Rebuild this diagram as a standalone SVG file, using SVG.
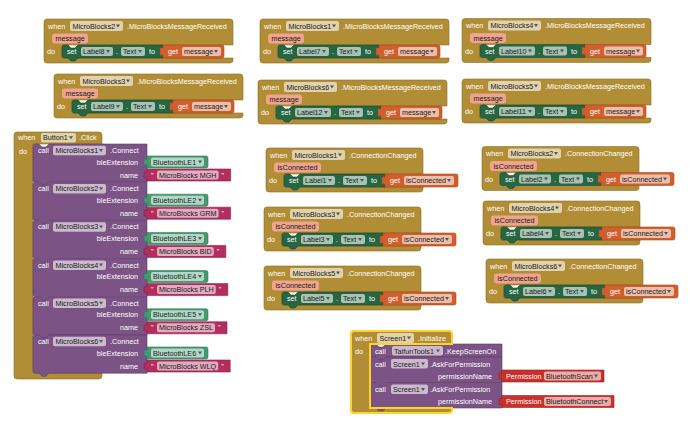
<svg xmlns="http://www.w3.org/2000/svg" width="690" height="421" viewBox="0 0 690 421">
<style>
text{font-family:"Liberation Sans",Arial,sans-serif;font-size:7.2px}
.w{fill:#fff}.k{fill:#1a1a1a}
.ev{fill:#B18E35;stroke:#8c7029;stroke-width:.6}
.st{fill:#266643;stroke:#1a4a30;stroke-width:.6}
.gt{fill:#D05F2D;stroke:#a84a20;stroke-width:.6}
.cl{fill:#7C5385;stroke:#5e3d66;stroke-width:.6}
.cp{fill:#439970;stroke:#327556;stroke-width:.6}
.tx{fill:#B32D5E;stroke:#8a2047;stroke-width:.6}
.pm{fill:#C8302C;stroke:#9b2420;stroke-width:.6}
.fe{fill:#E0D2AE}.fs{fill:#A8C2B3}.fg{fill:#ECBFAB}.fc{fill:#CBBACE}.fp{fill:#B4D6C6}.ft{fill:#E1ABBF}.fr{fill:#E9ACAA}
.pc{fill:#EFA48E}
.dd{fill:#555}
.sel{fill:none;stroke:#FFD42A;stroke-width:2}
</style>
<defs>
<path id="evMsg" d="M0,3Q0,0 3,0H186Q189,0 189,3V26H18V39H189V41Q189,44 186,44H3Q0,44 0,41Z"/>
<path id="evConn" d="M0,3Q0,0 3,0H154Q157,0 157,3V26H18V39H157V41Q157,44 154,44H3Q0,44 0,41Z"/>
<path id="evB" d="M0,3Q0,0 3,0H85Q88,0 88,3V12H19V241H88V244Q88,247 85,247H3Q0,247 0,244Z"/>
<path id="evS" d="M0,3Q0,0 3,0H98Q101,0 101,3V13H19V77H101V79Q101,82 98,82H3Q0,82 0,79Z"/>
<path id="setS" d="M0,2Q0,0 2,0H6L9,3H13L16,0H101V13H16L13,16H9L6,13H2Q0,13 0,11Z"/>
<path id="setL" d="M0,2Q0,0 2,0H6L9,3H13L16,0H105V13H16L13,16H9L6,13H2Q0,13 0,11Z"/>
<path id="getM" d="M0,0H59Q61,0 61,2V11Q61,13 59,13H0V10H-3V3H0Z"/>
<path id="getC" d="M0,0H71Q73,0 73,2V11Q73,13 71,13H0V10H-3V3H0Z"/>
<path id="callB" d="M0,2Q0,0 2,0H6L9,3H13L16,0H114V38.2H16L13,41.2H9L6,38.2H2Q0,38.2 0,36.2Z"/>
<path id="callS1" d="M0,2Q0,0 2,0H6L9,3H13L16,0H132V13H16L13,16H9L6,13H2Q0,13 0,11Z"/>
<path id="callS2" d="M0,2Q0,0 2,0H6L9,3H13L16,0H132V25.5H16L13,28.5H9L6,25.5H2Q0,25.5 0,23.5Z"/>
<path id="comp" d="M0,0H59Q61,0 61,2V10Q61,12 59,12H0V9H-3V3H0Z"/>
<path id="dd" d="M0,0h4l-2,3z" class="dd"/>
</defs>
<rect width="690" height="421" fill="#fff"/>
<g id="connectors"/>

<!-- MessageReceived blocks -->
<g id="mb2-message" transform="translate(44,19)">
<use href="#evMsg" class="ev"/>
<text class="w" x="4" y="9.6">when</text>
<rect class="fe" x="26" y="2" width="53" height="10" rx="2"/>
<text class="k" x="28.5" y="9.6">MicroBlocks2</text>
<use href="#dd" x="72" y="5.5"/>
<text class="w" x="83" y="9.6">.MicroBlocksMessageReceived</text>
<rect class="pc" x="8" y="14.5" width="36" height="10" rx="3"/>
<text class="k" x="11.5" y="22">message</text>
<text class="w" x="3" y="35">do</text>
<use href="#setS" class="st" x="18" y="26"/>
<text class="w" x="23" y="35.1">set</text>
<rect class="fs" x="37" y="28" width="32" height="9" rx="2"/>
<text class="k" x="39" y="35.1">Label8</text>
<use href="#dd" x="62" y="31"/>
<text class="w" x="72" y="35.1">.</text>
<rect class="fs" x="77" y="28" width="24" height="9" rx="2"/>
<text class="k" x="79" y="35.1">Text</text>
<use href="#dd" x="94" y="31"/>
<text class="w" x="105" y="35.1">to</text>
<use href="#getM" class="gt" x="119" y="26"/>
<text class="w" x="124" y="35.1">get</text>
<rect class="fg" x="138" y="28" width="39" height="9" rx="2"/>
<text class="k" x="140" y="35.1">message</text>
<use href="#dd" x="170" y="31"/>
</g>

<g id="mb3-message" transform="translate(54,74)">
<use href="#evMsg" class="ev"/>
<text class="w" x="4" y="9.6">when</text>
<rect class="fe" x="26" y="2" width="53" height="10" rx="2"/>
<text class="k" x="28.5" y="9.6">MicroBlocks3</text>
<use href="#dd" x="72" y="5.5"/>
<text class="w" x="83" y="9.6">.MicroBlocksMessageReceived</text>
<rect class="pc" x="8" y="14.5" width="36" height="10" rx="3"/>
<text class="k" x="11.5" y="22">message</text>
<text class="w" x="3" y="35">do</text>
<use href="#setS" class="st" x="18" y="26"/>
<text class="w" x="23" y="35.1">set</text>
<rect class="fs" x="37" y="28" width="32" height="9" rx="2"/>
<text class="k" x="39" y="35.1">Label9</text>
<use href="#dd" x="62" y="31"/>
<text class="w" x="72" y="35.1">.</text>
<rect class="fs" x="77" y="28" width="24" height="9" rx="2"/>
<text class="k" x="79" y="35.1">Text</text>
<use href="#dd" x="94" y="31"/>
<text class="w" x="105" y="35.1">to</text>
<use href="#getM" class="gt" x="119" y="26"/>
<text class="w" x="124" y="35.1">get</text>
<rect class="fg" x="138" y="28" width="39" height="9" rx="2"/>
<text class="k" x="140" y="35.1">message</text>
<use href="#dd" x="170" y="31"/>
</g>

<g id="mb1-message" transform="translate(260,19)">
<use href="#evMsg" class="ev"/>
<text class="w" x="4" y="9.6">when</text>
<rect class="fe" x="26" y="2" width="53" height="10" rx="2"/>
<text class="k" x="28.5" y="9.6">MicroBlocks1</text>
<use href="#dd" x="72" y="5.5"/>
<text class="w" x="83" y="9.6">.MicroBlocksMessageReceived</text>
<rect class="pc" x="8" y="14.5" width="36" height="10" rx="3"/>
<text class="k" x="11.5" y="22">message</text>
<text class="w" x="3" y="35">do</text>
<use href="#setS" class="st" x="18" y="26"/>
<text class="w" x="23" y="35.1">set</text>
<rect class="fs" x="37" y="28" width="32" height="9" rx="2"/>
<text class="k" x="39" y="35.1">Label7</text>
<use href="#dd" x="62" y="31"/>
<text class="w" x="72" y="35.1">.</text>
<rect class="fs" x="77" y="28" width="24" height="9" rx="2"/>
<text class="k" x="79" y="35.1">Text</text>
<use href="#dd" x="94" y="31"/>
<text class="w" x="105" y="35.1">to</text>
<use href="#getM" class="gt" x="119" y="26"/>
<text class="w" x="124" y="35.1">get</text>
<rect class="fg" x="138" y="28" width="39" height="9" rx="2"/>
<text class="k" x="140" y="35.1">message</text>
<use href="#dd" x="170" y="31"/>
</g>

<g id="mb4-message" transform="translate(462,18.5)">
<use href="#evMsg" class="ev"/>
<text class="w" x="4" y="9.6">when</text>
<rect class="fe" x="26" y="2" width="53" height="10" rx="2"/>
<text class="k" x="28.5" y="9.6">MicroBlocks4</text>
<use href="#dd" x="72" y="5.5"/>
<text class="w" x="83" y="9.6">.MicroBlocksMessageReceived</text>
<rect class="pc" x="8" y="14.5" width="36" height="10" rx="3"/>
<text class="k" x="11.5" y="22">message</text>
<text class="w" x="3" y="35">do</text>
<use href="#setL" class="st" x="18" y="26"/>
<text class="w" x="23" y="35.1">set</text>
<rect class="fs" x="37" y="28" width="36" height="9" rx="2"/>
<text class="k" x="39" y="35.1">Label10</text>
<use href="#dd" x="66" y="31"/>
<text class="w" x="76" y="35.1">.</text>
<rect class="fs" x="81" y="28" width="24" height="9" rx="2"/>
<text class="k" x="83" y="35.1">Text</text>
<use href="#dd" x="98" y="31"/>
<text class="w" x="109" y="35.1">to</text>
<use href="#getM" class="gt" x="123" y="26"/>
<text class="w" x="128" y="35.1">get</text>
<rect class="fg" x="142" y="28" width="39" height="9" rx="2"/>
<text class="k" x="144" y="35.1">message</text>
<use href="#dd" x="174" y="31"/>
</g>

<g id="mb6-message" transform="translate(258,80)">
<use href="#evMsg" class="ev"/>
<text class="w" x="4" y="9.6">when</text>
<rect class="fe" x="26" y="2" width="53" height="10" rx="2"/>
<text class="k" x="28.5" y="9.6">MicroBlocks6</text>
<use href="#dd" x="72" y="5.5"/>
<text class="w" x="83" y="9.6">.MicroBlocksMessageReceived</text>
<rect class="pc" x="8" y="14.5" width="36" height="10" rx="3"/>
<text class="k" x="11.5" y="22">message</text>
<text class="w" x="3" y="35">do</text>
<use href="#setL" class="st" x="18" y="26"/>
<text class="w" x="23" y="35.1">set</text>
<rect class="fs" x="37" y="28" width="36" height="9" rx="2"/>
<text class="k" x="39" y="35.1">Label12</text>
<use href="#dd" x="66" y="31"/>
<text class="w" x="76" y="35.1">.</text>
<rect class="fs" x="81" y="28" width="24" height="9" rx="2"/>
<text class="k" x="83" y="35.1">Text</text>
<use href="#dd" x="98" y="31"/>
<text class="w" x="109" y="35.1">to</text>
<use href="#getM" class="gt" x="123" y="26"/>
<text class="w" x="128" y="35.1">get</text>
<rect class="fg" x="142" y="28" width="39" height="9" rx="2"/>
<text class="k" x="144" y="35.1">message</text>
<use href="#dd" x="174" y="31"/>
</g>

<g id="mb5-message" transform="translate(462,79)">
<use href="#evMsg" class="ev"/>
<text class="w" x="4" y="9.6">when</text>
<rect class="fe" x="26" y="2" width="53" height="10" rx="2"/>
<text class="k" x="28.5" y="9.6">MicroBlocks5</text>
<use href="#dd" x="72" y="5.5"/>
<text class="w" x="83" y="9.6">.MicroBlocksMessageReceived</text>
<rect class="pc" x="8" y="14.5" width="36" height="10" rx="3"/>
<text class="k" x="11.5" y="22">message</text>
<text class="w" x="3" y="35">do</text>
<use href="#setL" class="st" x="18" y="26"/>
<text class="w" x="23" y="35.1">set</text>
<rect class="fs" x="37" y="28" width="36" height="9" rx="2"/>
<text class="k" x="39" y="35.1">Label11</text>
<use href="#dd" x="66" y="31"/>
<text class="w" x="76" y="35.1">.</text>
<rect class="fs" x="81" y="28" width="24" height="9" rx="2"/>
<text class="k" x="83" y="35.1">Text</text>
<use href="#dd" x="98" y="31"/>
<text class="w" x="109" y="35.1">to</text>
<use href="#getM" class="gt" x="123" y="26"/>
<text class="w" x="128" y="35.1">get</text>
<rect class="fg" x="142" y="28" width="39" height="9" rx="2"/>
<text class="k" x="144" y="35.1">message</text>
<use href="#dd" x="174" y="31"/>
</g>

<!-- ConnectionChanged blocks -->
<g id="mb1-connection" transform="translate(266,148)">
<use href="#evConn" class="ev"/>
<text class="w" x="4" y="9.6">when</text>
<rect class="fe" x="26" y="2" width="53" height="10" rx="2"/>
<text class="k" x="28.5" y="9.6">MicroBlocks1</text>
<use href="#dd" x="72" y="5.5"/>
<text class="w" x="83" y="9.6">.ConnectionChanged</text>
<rect class="pc" x="8" y="14.5" width="47" height="10" rx="3"/>
<text class="k" x="11.5" y="22">isConnected</text>
<text class="w" x="3" y="35">do</text>
<use href="#setS" class="st" x="18" y="26"/>
<text class="w" x="23" y="35.1">set</text>
<rect class="fs" x="37" y="28" width="32" height="9" rx="2"/>
<text class="k" x="39" y="35.1">Label1</text>
<use href="#dd" x="62" y="31"/>
<text class="w" x="72" y="35.1">.</text>
<rect class="fs" x="77" y="28" width="24" height="9" rx="2"/>
<text class="k" x="79" y="35.1">Text</text>
<use href="#dd" x="94" y="31"/>
<text class="w" x="105" y="35.1">to</text>
<use href="#getC" class="gt" x="119" y="26"/>
<text class="w" x="124" y="35.1">get</text>
<rect class="fg" x="138" y="28" width="50" height="9" rx="2"/>
<text class="k" x="140" y="35.1">isConnected</text>
<use href="#dd" x="181" y="31"/>
</g>

<g id="mb2-connection" transform="translate(482,146.5)">
<use href="#evConn" class="ev"/>
<text class="w" x="4" y="9.6">when</text>
<rect class="fe" x="26" y="2" width="53" height="10" rx="2"/>
<text class="k" x="28.5" y="9.6">MicroBlocks2</text>
<use href="#dd" x="72" y="5.5"/>
<text class="w" x="83" y="9.6">.ConnectionChanged</text>
<rect class="pc" x="8" y="14.5" width="47" height="10" rx="3"/>
<text class="k" x="11.5" y="22">isConnected</text>
<text class="w" x="3" y="35">do</text>
<use href="#setS" class="st" x="18" y="26"/>
<text class="w" x="23" y="35.1">set</text>
<rect class="fs" x="37" y="28" width="32" height="9" rx="2"/>
<text class="k" x="39" y="35.1">Label2</text>
<use href="#dd" x="62" y="31"/>
<text class="w" x="72" y="35.1">.</text>
<rect class="fs" x="77" y="28" width="24" height="9" rx="2"/>
<text class="k" x="79" y="35.1">Text</text>
<use href="#dd" x="94" y="31"/>
<text class="w" x="105" y="35.1">to</text>
<use href="#getC" class="gt" x="119" y="26"/>
<text class="w" x="124" y="35.1">get</text>
<rect class="fg" x="138" y="28" width="50" height="9" rx="2"/>
<text class="k" x="140" y="35.1">isConnected</text>
<use href="#dd" x="181" y="31"/>
</g>

<g id="mb3-connection" transform="translate(264,207)">
<use href="#evConn" class="ev"/>
<text class="w" x="4" y="9.6">when</text>
<rect class="fe" x="26" y="2" width="53" height="10" rx="2"/>
<text class="k" x="28.5" y="9.6">MicroBlocks3</text>
<use href="#dd" x="72" y="5.5"/>
<text class="w" x="83" y="9.6">.ConnectionChanged</text>
<rect class="pc" x="8" y="14.5" width="47" height="10" rx="3"/>
<text class="k" x="11.5" y="22">isConnected</text>
<text class="w" x="3" y="35">do</text>
<use href="#setS" class="st" x="18" y="26"/>
<text class="w" x="23" y="35.1">set</text>
<rect class="fs" x="37" y="28" width="32" height="9" rx="2"/>
<text class="k" x="39" y="35.1">Label3</text>
<use href="#dd" x="62" y="31"/>
<text class="w" x="72" y="35.1">.</text>
<rect class="fs" x="77" y="28" width="24" height="9" rx="2"/>
<text class="k" x="79" y="35.1">Text</text>
<use href="#dd" x="94" y="31"/>
<text class="w" x="105" y="35.1">to</text>
<use href="#getC" class="gt" x="119" y="26"/>
<text class="w" x="124" y="35.1">get</text>
<rect class="fg" x="138" y="28" width="50" height="9" rx="2"/>
<text class="k" x="140" y="35.1">isConnected</text>
<use href="#dd" x="181" y="31"/>
</g>

<g id="mb5-connection" transform="translate(264,266)">
<use href="#evConn" class="ev"/>
<text class="w" x="4" y="9.6">when</text>
<rect class="fe" x="26" y="2" width="53" height="10" rx="2"/>
<text class="k" x="28.5" y="9.6">MicroBlocks5</text>
<use href="#dd" x="72" y="5.5"/>
<text class="w" x="83" y="9.6">.ConnectionChanged</text>
<rect class="pc" x="8" y="14.5" width="47" height="10" rx="3"/>
<text class="k" x="11.5" y="22">isConnected</text>
<text class="w" x="3" y="35">do</text>
<use href="#setS" class="st" x="18" y="26"/>
<text class="w" x="23" y="35.1">set</text>
<rect class="fs" x="37" y="28" width="32" height="9" rx="2"/>
<text class="k" x="39" y="35.1">Label5</text>
<use href="#dd" x="62" y="31"/>
<text class="w" x="72" y="35.1">.</text>
<rect class="fs" x="77" y="28" width="24" height="9" rx="2"/>
<text class="k" x="79" y="35.1">Text</text>
<use href="#dd" x="94" y="31"/>
<text class="w" x="105" y="35.1">to</text>
<use href="#getC" class="gt" x="119" y="26"/>
<text class="w" x="124" y="35.1">get</text>
<rect class="fg" x="138" y="28" width="50" height="9" rx="2"/>
<text class="k" x="140" y="35.1">isConnected</text>
<use href="#dd" x="181" y="31"/>
</g>

<g id="mb4-connection" transform="translate(483,201)">
<use href="#evConn" class="ev"/>
<text class="w" x="4" y="9.6">when</text>
<rect class="fe" x="26" y="2" width="53" height="10" rx="2"/>
<text class="k" x="28.5" y="9.6">MicroBlocks4</text>
<use href="#dd" x="72" y="5.5"/>
<text class="w" x="83" y="9.6">.ConnectionChanged</text>
<rect class="pc" x="8" y="14.5" width="47" height="10" rx="3"/>
<text class="k" x="11.5" y="22">isConnected</text>
<text class="w" x="3" y="35">do</text>
<use href="#setS" class="st" x="18" y="26"/>
<text class="w" x="23" y="35.1">set</text>
<rect class="fs" x="37" y="28" width="32" height="9" rx="2"/>
<text class="k" x="39" y="35.1">Label4</text>
<use href="#dd" x="62" y="31"/>
<text class="w" x="72" y="35.1">.</text>
<rect class="fs" x="77" y="28" width="24" height="9" rx="2"/>
<text class="k" x="79" y="35.1">Text</text>
<use href="#dd" x="94" y="31"/>
<text class="w" x="105" y="35.1">to</text>
<use href="#getC" class="gt" x="119" y="26"/>
<text class="w" x="124" y="35.1">get</text>
<rect class="fg" x="138" y="28" width="50" height="9" rx="2"/>
<text class="k" x="140" y="35.1">isConnected</text>
<use href="#dd" x="181" y="31"/>
</g>

<g id="mb6-connection" transform="translate(486,259)">
<use href="#evConn" class="ev"/>
<text class="w" x="4" y="9.6">when</text>
<rect class="fe" x="26" y="2" width="53" height="10" rx="2"/>
<text class="k" x="28.5" y="9.6">MicroBlocks6</text>
<use href="#dd" x="72" y="5.5"/>
<text class="w" x="83" y="9.6">.ConnectionChanged</text>
<rect class="pc" x="8" y="14.5" width="47" height="10" rx="3"/>
<text class="k" x="11.5" y="22">isConnected</text>
<text class="w" x="3" y="35">do</text>
<use href="#setS" class="st" x="18" y="26"/>
<text class="w" x="23" y="35.1">set</text>
<rect class="fs" x="37" y="28" width="32" height="9" rx="2"/>
<text class="k" x="39" y="35.1">Label6</text>
<use href="#dd" x="62" y="31"/>
<text class="w" x="72" y="35.1">.</text>
<rect class="fs" x="77" y="28" width="24" height="9" rx="2"/>
<text class="k" x="79" y="35.1">Text</text>
<use href="#dd" x="94" y="31"/>
<text class="w" x="105" y="35.1">to</text>
<use href="#getC" class="gt" x="119" y="26"/>
<text class="w" x="124" y="35.1">get</text>
<rect class="fg" x="138" y="28" width="50" height="9" rx="2"/>
<text class="k" x="140" y="35.1">isConnected</text>
<use href="#dd" x="181" y="31"/>
</g>

<!-- Button1.Click -->
<g id="button1-click">
<use href="#evB" class="ev" x="14" y="132"/>
<text class="w" x="18" y="140">when</text>
<rect class="fe" x="41" y="133" width="35" height="9.5" rx="2"/>
<text class="k" x="43" y="140.2">Button1</text>
<use href="#dd" x="69" y="136.3"/>
<text class="w" x="79" y="140.2">.Click</text>
<text class="w" x="19" y="153.6">do</text>

<g id="call-mb1" transform="translate(33,144)">
<use href="#callB" class="cl"/>
<text class="w" x="5" y="9">call</text>
<rect class="fc" x="20" y="1.8" width="53" height="9.5" rx="2"/>
<text class="k" x="22.5" y="9">MicroBlocks1</text>
<use href="#dd" x="66" y="5"/>
<text class="w" x="77" y="9">.Connect</text>
<text class="w" x="105" y="20.6" text-anchor="end">bleExtension</text>
<text class="w" x="105" y="33.6" text-anchor="end">name</text>
<use href="#comp" class="cp" x="114" y="12"/>
<rect class="fp" x="118" y="13.5" width="53" height="9" rx="2"/>
<text class="k" x="120" y="20.6">BluetoothLE1</text>
<use href="#dd" x="165" y="16.5"/>
<path class="tx" d="M114,25h83.6v12h-83.6v-3h-3v-6h3z"/>
<text class="w" x="118" y="33.6">"</text>
<rect class="ft" x="124" y="26.5" width="61.6" height="9" rx="2"/>
<text class="k" x="126" y="33.6">MicroBlocks MGH</text>
<text class="w" x="188.6" y="33.6">"</text>
</g>

<g id="call-mb2" transform="translate(33,182.2)">
<use href="#callB" class="cl"/>
<text class="w" x="5" y="9">call</text>
<rect class="fc" x="20" y="1.8" width="53" height="9.5" rx="2"/>
<text class="k" x="22.5" y="9">MicroBlocks2</text>
<use href="#dd" x="66" y="5"/>
<text class="w" x="77" y="9">.Connect</text>
<text class="w" x="105" y="20.6" text-anchor="end">bleExtension</text>
<text class="w" x="105" y="33.6" text-anchor="end">name</text>
<use href="#comp" class="cp" x="114" y="12"/>
<rect class="fp" x="118" y="13.5" width="53" height="9" rx="2"/>
<text class="k" x="120" y="20.6">BluetoothLE2</text>
<use href="#dd" x="165" y="16.5"/>
<path class="tx" d="M114,25h83.6v12h-83.6v-3h-3v-6h3z"/>
<text class="w" x="118" y="33.6">"</text>
<rect class="ft" x="124" y="26.5" width="61.6" height="9" rx="2"/>
<text class="k" x="126" y="33.6">MicroBlocks GRM</text>
<text class="w" x="188.6" y="33.6">"</text>
</g>

<g id="call-mb3" transform="translate(33,220.4)">
<use href="#callB" class="cl"/>
<text class="w" x="5" y="9">call</text>
<rect class="fc" x="20" y="1.8" width="53" height="9.5" rx="2"/>
<text class="k" x="22.5" y="9">MicroBlocks3</text>
<use href="#dd" x="66" y="5"/>
<text class="w" x="77" y="9">.Connect</text>
<text class="w" x="105" y="20.6" text-anchor="end">bleExtension</text>
<text class="w" x="105" y="33.6" text-anchor="end">name</text>
<use href="#comp" class="cp" x="114" y="12"/>
<rect class="fp" x="118" y="13.5" width="53" height="9" rx="2"/>
<text class="k" x="120" y="20.6">BluetoothLE3</text>
<use href="#dd" x="165" y="16.5"/>
<path class="tx" d="M114,25h78.8v12h-78.8v-3h-3v-6h3z"/>
<text class="w" x="118" y="33.6">"</text>
<rect class="ft" x="124" y="26.5" width="56.8" height="9" rx="2"/>
<text class="k" x="126" y="33.6">MicroBlocks BID</text>
<text class="w" x="183.8" y="33.6">"</text>
</g>

<g id="call-mb4" transform="translate(33,258.6)">
<use href="#callB" class="cl"/>
<text class="w" x="5" y="9">call</text>
<rect class="fc" x="20" y="1.8" width="53" height="9.5" rx="2"/>
<text class="k" x="22.5" y="9">MicroBlocks4</text>
<use href="#dd" x="66" y="5"/>
<text class="w" x="77" y="9">.Connect</text>
<text class="w" x="105" y="20.6" text-anchor="end">bleExtension</text>
<text class="w" x="105" y="33.6" text-anchor="end">name</text>
<use href="#comp" class="cp" x="114" y="12"/>
<rect class="fp" x="118" y="13.5" width="53" height="9" rx="2"/>
<text class="k" x="120" y="20.6">BluetoothLE4</text>
<use href="#dd" x="165" y="16.5"/>
<path class="tx" d="M114,25h80.8v12h-80.8v-3h-3v-6h3z"/>
<text class="w" x="118" y="33.6">"</text>
<rect class="ft" x="124" y="26.5" width="58.8" height="9" rx="2"/>
<text class="k" x="126" y="33.6">MicroBlocks PLH</text>
<text class="w" x="185.8" y="33.6">"</text>
</g>

<g id="call-mb5" transform="translate(33,296.8)">
<use href="#callB" class="cl"/>
<text class="w" x="5" y="9">call</text>
<rect class="fc" x="20" y="1.8" width="53" height="9.5" rx="2"/>
<text class="k" x="22.5" y="9">MicroBlocks5</text>
<use href="#dd" x="66" y="5"/>
<text class="w" x="77" y="9">.Connect</text>
<text class="w" x="105" y="20.6" text-anchor="end">bleExtension</text>
<text class="w" x="105" y="33.6" text-anchor="end">name</text>
<use href="#comp" class="cp" x="114" y="12"/>
<rect class="fp" x="118" y="13.5" width="53" height="9" rx="2"/>
<text class="k" x="120" y="20.6">BluetoothLE5</text>
<use href="#dd" x="165" y="16.5"/>
<path class="tx" d="M114,25h80v12h-80v-3h-3v-6h3z"/>
<text class="w" x="118" y="33.6">"</text>
<rect class="ft" x="124" y="26.5" width="58" height="9" rx="2"/>
<text class="k" x="126" y="33.6">MicroBlocks ZSL</text>
<text class="w" x="185" y="33.6">"</text>
</g>

<g id="call-mb6" transform="translate(33,335)">
<use href="#callB" class="cl"/>
<text class="w" x="5" y="9">call</text>
<rect class="fc" x="20" y="1.8" width="53" height="9.5" rx="2"/>
<text class="k" x="22.5" y="9">MicroBlocks6</text>
<use href="#dd" x="66" y="5"/>
<text class="w" x="77" y="9">.Connect</text>
<text class="w" x="105" y="20.6" text-anchor="end">bleExtension</text>
<text class="w" x="105" y="33.6" text-anchor="end">name</text>
<use href="#comp" class="cp" x="114" y="12"/>
<rect class="fp" x="118" y="13.5" width="53" height="9" rx="2"/>
<text class="k" x="120" y="20.6">BluetoothLE6</text>
<use href="#dd" x="165" y="16.5"/>
<path class="tx" d="M114,25h83.2v12h-83.2v-3h-3v-6h3z"/>
<text class="w" x="118" y="33.6">"</text>
<rect class="ft" x="124" y="26.5" width="61.2" height="9" rx="2"/>
<text class="k" x="126" y="33.6">MicroBlocks WLQ</text>
<text class="w" x="188.2" y="33.6">"</text>
</g>
</g>

<!-- Screen1.Initialize -->
<g id="screen1-initialize">
<use href="#evS" class="ev" x="351" y="331"/>
<text class="w" x="355" y="340.6">when</text>
<rect class="fe" x="377" y="333" width="37" height="10" rx="2"/>
<text class="k" x="379.5" y="340.6">Screen1</text>
<use href="#dd" x="407" y="336.5"/>
<text class="w" x="418" y="340.6">.Initialize</text>
<text class="w" x="355" y="353.6">do</text>

<g id="call-keepscreenon" transform="translate(370,344)">
<use href="#callS1" class="cl"/>
<text class="w" x="5" y="9.6">call</text>
<rect class="fc" x="22" y="2" width="51" height="9.5" rx="2"/>
<text class="k" x="24" y="9.6">TaifunTools1</text>
<use href="#dd" x="66" y="5.5"/>
<text class="w" x="75" y="9.6">.KeepScreenOn</text>
</g>

<g id="call-askscan" transform="translate(370,357)">
<use href="#callS2" class="cl"/>
<text class="w" x="5" y="9.6">call</text>
<rect class="fc" x="21" y="2" width="37" height="9.5" rx="2"/>
<text class="k" x="23" y="9.6">Screen1</text>
<use href="#dd" x="51" y="5.5"/>
<text class="w" x="60" y="9.6">.AskForPermission</text>
<text class="w" x="122" y="21.6" text-anchor="end">permissionName</text>
<path class="pm" d="M132,13h102v12h-102v-3h-3v-6h3z"/>
<text class="w" x="136" y="21.6">Permission</text>
<rect class="fr" x="174" y="14.5" width="57" height="9" rx="2"/>
<text class="k" x="176" y="21.6">BluetoothScan</text>
<use href="#dd" x="224" y="17.5"/>
</g>

<g id="call-askconnect" transform="translate(370,382.5)">
<use href="#callS2" class="cl"/>
<text class="w" x="5" y="9.6">call</text>
<rect class="fc" x="21" y="2" width="37" height="9.5" rx="2"/>
<text class="k" x="23" y="9.6">Screen1</text>
<use href="#dd" x="51" y="5.5"/>
<text class="w" x="60" y="9.6">.AskForPermission</text>
<text class="w" x="122" y="21.6" text-anchor="end">permissionName</text>
<path class="pm" d="M132,13h112v12h-112v-3h-3v-6h3z"/>
<text class="w" x="136" y="21.6">Permission</text>
<rect class="fr" x="174" y="14.5" width="67" height="9" rx="2"/>
<text class="k" x="176" y="21.6">BluetoothConnect</text>
<use href="#dd" x="234" y="17.5"/>
</g>
<use href="#evS" class="sel" x="351" y="331"/>
</g>
</svg>
